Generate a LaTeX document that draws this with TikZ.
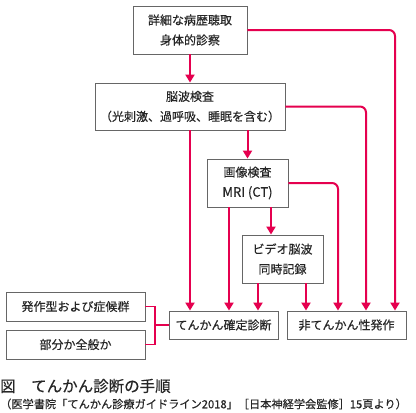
\documentclass[tikz,border=0pt]{standalone}
\usepackage{fontspec}
\setmainfont{Noto Sans CJK JP}[FakeBold=0.35]
\usetikzlibrary{arrows.meta,shadows,calc}
\definecolor{pinkred}{HTML}{E5004F}
\definecolor{boxline}{HTML}{666666}
\tikzset{
  box/.style={draw=boxline, line width=0.9pt, fill=white, align=center,
    inner sep=0pt, font=\fontsize{12}{20}\selectfont, text=black!85,
    drop shadow={shadow xshift=1.2pt, shadow yshift=-1.2pt, fill=black!30, opacity=0.6}},
  arr/.style={draw=pinkred, line width=2pt, rounded corners=6pt,
    -{Triangle[width=9pt,length=8pt]}},
  br/.style={draw=pinkred, line width=1.1pt}
}
\begin{document}
\begin{tikzpicture}[x=1pt,y=-1pt]
\path[fill=white] (0,0) rectangle (416,413);
\useasboundingbox (0,0) rectangle (416,413);

\node[box, minimum width=114pt, minimum height=48pt] (b1) at (190,30) {詳細な病歴聴取\\身体的診察};
\node[box, minimum width=190pt, minimum height=47pt] (b2) at (190,106.5) {脳波検査\\（光刺激、過呼吸、睡眠を含む）};
\node[box, minimum width=81pt, minimum height=48pt] (b3) at (247.5,183) {画像検査\\{\fontsize{13}{20}\selectfont MRI (CT)}};
\node[box, minimum width=81pt, minimum height=48pt] (b4) at (282.5,259) {ビデオ脳波\\同時記録};
\node[box, minimum width=109pt, minimum height=28pt] (b5) at (223.5,325) {てんかん確定診断};
\node[box, minimum width=119pt, minimum height=28pt] (b6) at (346.5,325) {非てんかん性発作};
\node[box, minimum width=139pt, minimum height=29pt] (b7) at (75.5,306.5) {発作型および症候群};
\node[box, minimum width=139pt, minimum height=29pt] (b8) at (75.5,344.5) {部分か全般か};

\draw[arr] (b1) -- (b2);
\draw[arr] (b1.east) -| ([xshift=48.5pt]b6.north);
\draw[arr] (b2.east) -| ([xshift=19.5pt]b6.north);
\draw[arr] (b2.south) -- ([xshift=-33.5pt]b5.north);
\draw[arr] (b2.south -| b3.north) -- (b3.north);
\draw[arr] (b3.east) -| ([xshift=-8.5pt]b6.north);
\draw[arr] ([xshift=-18.5pt]b3.south) -- ([xshift=5.5pt]b5.north);
\draw[arr] ([xshift=23.5pt]b3.south) -- ([xshift=-11.5pt]b4.north);
\draw[arr] ([xshift=-24.5pt]b4.south) -- ([xshift=34.5pt]b5.north);
\draw[arr] ([xshift=23.5pt]b4.south) -- ([xshift=-40.5pt]b6.north);

\coordinate (j) at (155,325);
\draw[br] (b7.east) -| (j) |- (b8.east);
\draw[br] (j) -- (b5.west);

\node[anchor=west, inner sep=0pt, font=\fontsize{15.5}{18}\selectfont, text=black!85] (cap1) at (0,386) {図　てんかん診断の手順};
\node[anchor=west, inner sep=0pt, font=\fontsize{11.2}{13}\selectfont, text=black!85] (cap2) at (0,404) {（医学書院「てんかん診療ガイドライン2018」［日本神経学会監修］15頁より）};
\end{tikzpicture}
\end{document}
